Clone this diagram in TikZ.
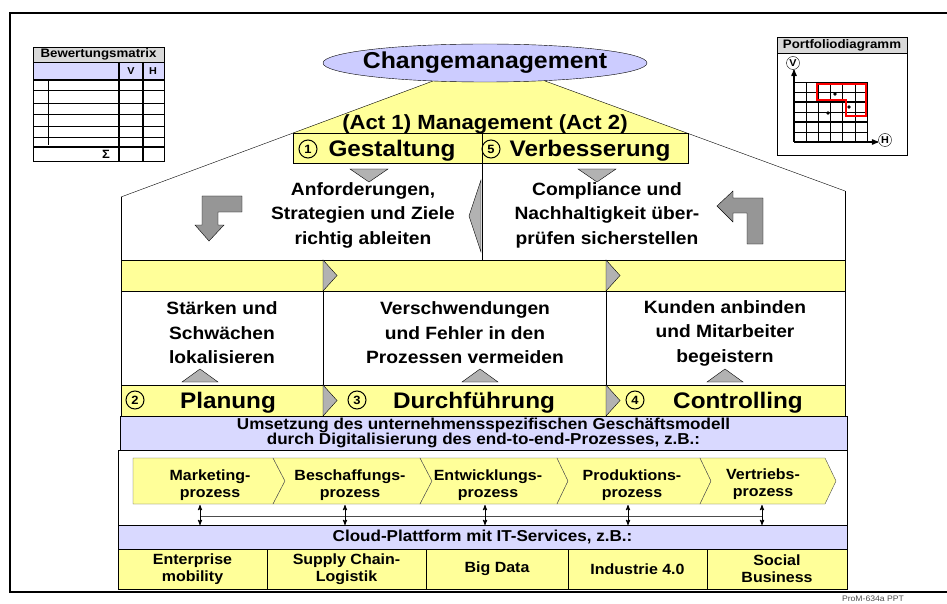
\documentclass[tikz,border=0pt]{standalone}
\usepackage{fontspec}
\setmainfont{Liberation Sans}[FakeStretch=1.08]
\usetikzlibrary{arrows,positioning,shapes.geometric}
\definecolor{yelfill}{RGB}{255,255,153}
\definecolor{bluefill}{RGB}{204,204,255}
\definecolor{bandfill}{RGB}{217,217,255}
\definecolor{trigray}{RGB}{178,178,178}
\definecolor{arrgray}{RGB}{150,150,150}
\definecolor{hdgray}{RGB}{217,217,217}

\begin{document}
\begin{tikzpicture}[x=1pt,y=-1pt,>=stealth',
  yel/.style={draw,fill=yelfill,inner sep=0pt},
  band/.style={draw,fill=bandfill,inner sep=0pt},
  tri/.style={draw,fill=trigray},
  bent/.style={draw,fill=arrgray},
  big/.style={font=\fontsize{23}{24}\selectfont\bfseries},
  head/.style={font=\fontsize{22.5}{24}\selectfont\bfseries},
  act/.style={font=\fontsize{20.5}{22}\selectfont\bfseries},
  txt/.style={align=center,font=\fontsize{17.8}{24.5}\selectfont\bfseries},
  small/.style={align=center,font=\fontsize{14.8}{17}\selectfont\bfseries},
  num/.style={circle,draw,line width=1pt,inner sep=0pt,minimum size=18pt,font=\fontsize{12}{12}\selectfont\bfseries},
  title/.style={draw,fill=hdgray,inner sep=0pt,font=\fontsize{12.3}{12}\selectfont\bfseries},
  tiny/.style={font=\fontsize{10}{10}\selectfont\bfseries}]
  \useasboundingbox (0,0) rectangle (947,604);
  \draw[line width=1.6pt] (947,13) -- (10,13) -- (10,592) -- (947,592);

  % Bewertungsmatrix
  \node[title, minimum width=131pt, minimum height=15pt] (bwtitle) at (98.5,54.5) {Bewertungsmatrix};
  \fill[bandfill] (33,62) rectangle (164,80);
  \draw (33,62) rectangle (164,161);
  \draw (33,90) -- (164,90) (33,103) -- (164,103) (33,114) -- (164,114)
        (33,126) -- (164,126) (33,137) -- (164,137);
  \draw[line width=1.2pt] (33,80) -- (164,80) (33,147) -- (164,147);
  \draw[line width=1.2pt] (119,62) -- (119,161) (143,62) -- (143,161);
  \draw (48,80) -- (48,145);
  \node[tiny] (colv) at (131,71) {V};
  \node[tiny] (colh) at (153,71) {H};
  \node[font=\fontsize{12}{12}\selectfont\bfseries] (sigma) at (106,154) {Σ};

  % Portfoliodiagramm
  \node[title, minimum width=130pt, minimum height=16pt] (pftitle) at (842,45) {Portfoliodiagramm};
  \draw (777,53) rectangle (907,155);
  \begin{scope}[shift={(794,82)}]
    \draw[xstep=12.1667pt,ystep=10pt] (0,0) grid (73.1,60.1);
  \end{scope}
  \draw[line width=1.2pt] (818.3,82) -- (818.3,142) (842.7,82) -- (842.7,142)
        (794,102) -- (867,102) (794,122) -- (867,122);
  \draw[red, line width=1.5pt] (817,84) -- (866,84) -- (866,116) -- (846,116) -- (846,100) -- (817,100) -- cycle;
  \fill (835,94) circle (1.8pt) (849,107) circle (1.8pt) (828,113) circle (1.8pt);
  \node[circle, draw, inner sep=0pt, minimum size=13pt, tiny] (vcirc) at (793,63) {V};
  \node[circle, draw, inner sep=0pt, minimum size=13pt, tiny] (hcirc) at (885,140) {H};
  \coordinate (orig) at (794,142);
  \draw[->, line width=1.3pt] (orig) -- (orig |- vcirc.south);
  \draw[->, line width=1.3pt] (orig) -- (orig -| hcirc.west);

  % Dach
  \fill[yelfill] (433,81) -- (545,81) -- (687,133) -- (293,133) -- cycle;
  \draw (121,197) -- (433,81);
  \draw (845,191) -- (545,81);
  \node[ellipse, draw, fill=bluefill, inner sep=0pt, minimum width=324pt, minimum height=38pt] (change) at (485,63) {};
  \node[big] (changetxt) at (change.center) {Changemanagement};
  \node[act, anchor=base] (act) at (485,130) {(Act 1) Management (Act 2)};

  \node[yel, minimum width=189pt, minimum height=30pt] (gest) at (387.5,148) {};
  \node[yel, minimum width=206pt, minimum height=30pt] (verb) at (585,148) {};
  \node[num] (n1) at (308,149) {1};
  \node[head, anchor=base] (gtxt) at (392,157) {Gestaltung};
  \node[num] (n5) at (491,149) {5};
  \node[head, anchor=base] (vtxt) at (590,157) {Verbesserung};

  % obere Etage
  \draw (121,197) -- (121,416);
  \draw (845,191) -- (845,416);
  \draw (482,163) -- (482,260);
  \draw[tri] (350,169) -- (388,169) -- (369,182) -- cycle;
  \draw[tri] (578,169) -- (616,169) -- (597,182) -- cycle;
  \draw[tri] (481,180) -- (469,216) -- (481,252) -- cycle;
  \draw[bent] (202,196) -- (242,196) -- (242,212) -- (218,212) -- (218,225) -- (224,225)
              -- (209,241) -- (195,225) -- (202,225) -- cycle;
  \draw[bent] (763,198) -- (763,244) -- (747,244) -- (747,213) -- (733,213) -- (733,222)
              -- (717,206) -- (733,191) -- (733,198) -- cycle;
  \node[txt] (anf) at (363,215) {Anforderungen,\\Strategien und Ziele\\richtig ableiten};
  \node[txt] (comp) at (607,215) {Compliance und\\Nachhaltigkeit über-\\prüfen sicherstellen};

  % mittlere Etage
  \node[yel, minimum width=724pt, minimum height=31pt] (bar) at (483,275.5) {};
  \draw (323,260) -- (323,385) (606,260) -- (606,385);
  \draw[tri] (323,260) -- (337,275.5) -- (323,291) -- cycle;
  \draw[tri] (606,260) -- (620,275.5) -- (606,291) -- cycle;
  \node[txt] (staerk) at (222,333) {Stärken und\\Schwächen\\lokalisieren};
  \node[txt] (versch) at (465,333) {Verschwendungen\\und Fehler in den\\Prozessen vermeiden};
  \node[txt] (kunden) at (725,333) {Kunden anbinden\\und Mitarbeiter\\begeistern};
  \draw[tri] (182,382) -- (218,382) -- (200,369) -- cycle;
  \draw[tri] (462,382) -- (498,382) -- (480,369) -- cycle;
  \draw[tri] (707,382) -- (743,382) -- (725,369) -- cycle;

  % Phasen
  \node[yel, minimum width=202pt, minimum height=31pt] (plan) at (222,400.5) {};
  \node[yel, minimum width=283pt, minimum height=31pt] (durch) at (464.5,400.5) {};
  \node[yel, minimum width=239pt, minimum height=31pt] (contr) at (725.5,400.5) {};
  \draw[tri] (323,385) -- (337,400.5) -- (323,416) -- cycle;
  \draw[tri] (606,385) -- (620,400.5) -- (606,416) -- cycle;
  \node[num] (n2) at (135,400) {2};
  \node[head, anchor=base] (ptxt) at (228,408) {Planung};
  \node[num] (n3) at (357,400) {3};
  \node[head, anchor=base] (dtxt) at (474,408) {Durchführung};
  \node[num] (n4) at (635,400) {4};
  \node[head, anchor=base] (ctxt) at (738,408) {Controlling};

  % Fundament
  \draw (118,450) rectangle (847,589);
  \node[band, minimum width=727pt, minimum height=34pt, align=center,
        font=\fontsize{15.8}{14}\selectfont\bfseries] (umsetz) at (483.5,433)
        {Umsetzung des unternehmensspezifischen Geschäftsmodell\\durch Digitalisierung des end-to-end-Prozesses, z.B.:};

  \draw[fill=yelfill, draw=black!70] (133,458) -- (273,458) -- (285,481) -- (273,504) -- (133,504) -- cycle;
  \draw[fill=yelfill, draw=black!70] (273,458) -- (420,458) -- (432,481) -- (420,504) -- (273,504) -- (285,481) -- cycle;
  \draw[fill=yelfill, draw=black!70] (420,458) -- (557,458) -- (568,481) -- (557,504) -- (420,504) -- (432,481) -- cycle;
  \draw[fill=yelfill, draw=black!70] (557,458) -- (700,458) -- (711,481) -- (700,504) -- (557,504) -- (568,481) -- cycle;
  \draw[fill=yelfill, draw=black!70] (700,458) -- (825,458) -- (836,481) -- (825,504) -- (700,504) -- (711,481) -- cycle;
  \node[small] (mkt) at (210,485) {Marketing-\\prozess};
  \node[small] (besch) at (350,485) {Beschaffungs-\\prozess};
  \node[small] (entw) at (488,485) {Entwicklungs-\\prozess};
  \node[small] (prod) at (632,485) {Produktions-\\prozess};
  \node[small] (vertr) at (763,484) {Vertriebs-\\prozess};

  \coordinate (t1) at (200,505); \coordinate (b1) at (200,525);
  \coordinate (t2) at (345,505); \coordinate (b2) at (345,525);
  \coordinate (t3) at (485,505); \coordinate (b3) at (485,525);
  \coordinate (t4) at (628,505); \coordinate (b4) at (628,525);
  \coordinate (t5) at (762,505); \coordinate (b5) at (762,525);
  \draw[black!70] (t1 |- 0,516) -- (t5 |- 0,516);
  \draw[<->, line width=0.9pt] (t1) -- (b1);
  \draw[<->, line width=0.9pt] (t2) -- (b2);
  \draw[<->, line width=0.9pt] (t3) -- (b3);
  \draw[<->, line width=0.9pt] (t4) -- (b4);
  \draw[<->, line width=0.9pt] (t5) -- (b5);

  \node[band, minimum width=729pt, minimum height=24pt,
        font=\fontsize{15.8}{17}\selectfont\bfseries] (cloud) at (482.5,537) {Cloud-Plattform mit IT-Services, z.B.:};
  \node[yel, small, minimum width=149pt, minimum height=40pt] (enter) at (192.5,569) {Enterprise\\mobility};
  \node[yel, small, minimum width=159pt, minimum height=40pt] (supply) at (346.5,569) {Supply Chain-\\Logistik};
  \node[yel, small, minimum width=142pt, minimum height=40pt] (bigdata) at (497,569) {Big Data};
  \node[yel, small, minimum width=139pt, minimum height=40pt] (indus) at (637.5,569) {Industrie 4.0};
  \node[yel, small, minimum width=140pt, minimum height=40pt] (social) at (777,569) {Social\\Business};

  \node[font=\fontsize{8}{8}\selectfont, text=black!70] (ref) at (873,599) {ProM-634a PPT};
\end{tikzpicture}
\end{document}
